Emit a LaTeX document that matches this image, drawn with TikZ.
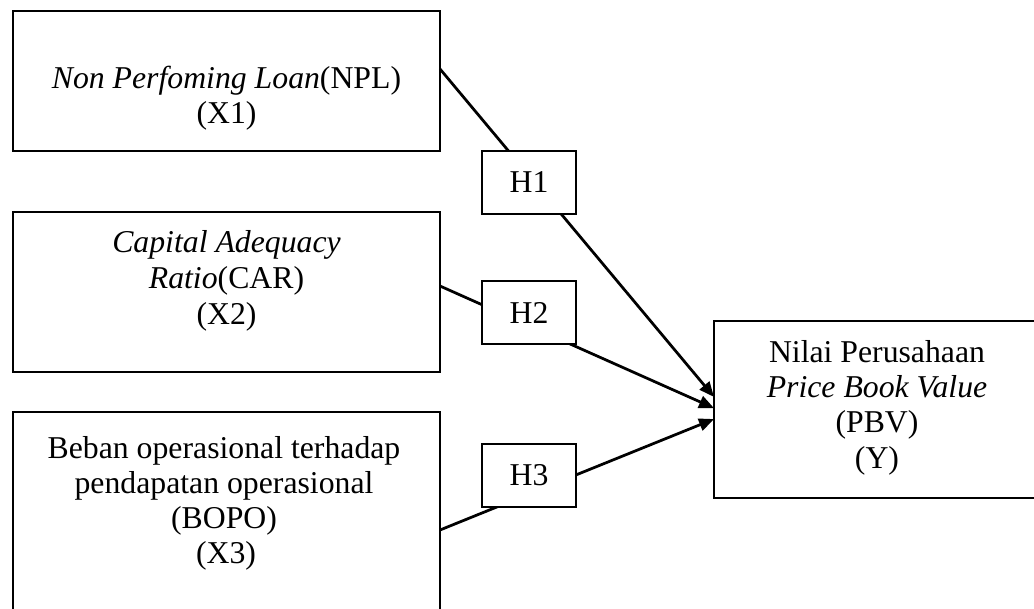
\documentclass[tikz,border=0pt]{standalone}
\usepackage{fontspec}
\setmainfont{Liberation Serif}
\usetikzlibrary{arrows.meta,calc,fit}
\begin{document}
\begin{tikzpicture}[x=0.4pt,y=-0.4pt,
  box/.style={draw,line width=0.8pt,inner sep=0pt,outer sep=0pt,fill=white,font=\fontsize{12.7}{15}\selectfont},
  hbox/.style={box,minimum width=37.6pt,minimum height=25.2pt},
  txt/.style={anchor=base,inner sep=0pt,font=\fontsize{12.7}{15}\selectfont},
  conn/.style={line width=1.1pt,-{Triangle[length=6pt,width=5pt]}}]
\useasboundingbox (0,0) rectangle (1034,608);
\clip (0,0) rectangle (1034,608);
% main boxes
\node[box,fit={(13,11)(440,151)}] (x1) {};
\node[box,fit={(13,212)(440,372)}] (x2) {};
\node[box,fit={(13,412)(440,640)}] (x3) {};
\node[box,fit={(714,321)(1040,498)}] (y) {};
% texts
\node[txt] (x1a) at (226.5,88) {\textit{Non Perfoming Loan}(NPL)};
\node[txt] (x1b) at (226.5,123) {(X1)};
\node[txt] (x2a) at (226.5,252) {\textit{Capital Adequacy}};
\node[txt] (x2b) at (226.5,288) {\textit{Ratio}(CAR)};
\node[txt] (x2c) at (226.5,324) {(X2)};
\node[txt] (x3a) at (224,458) {Beban operasional terhadap};
\node[txt] (x3b) at (224,493) {pendapatan operasional};
\node[txt] (x3c) at (224,528) {(BOPO)};
\node[txt] (x3d) at (226,563) {(X3)};
\node[txt] (ya) at (877,362) {Nilai Perusahaan};
\node[txt] (yb) at (877,397) {\textit{Price Book Value}};
\node[txt] (yc) at (877,432) {(PBV)};
\node[txt] (yd) at (877,468) {(Y)};
% connectors
\coordinate (s1) at ($(x1.north east)!0.414!(x1.south east)$);
\coordinate (s2) at ($(x2.north east)!0.4625!(x2.south east)$);
\coordinate (s3) at ($(x3.north east)!0.5175!(x3.south east)$);
\coordinate (t1) at ($(y.north west)!0.429!(y.south west)$);
\coordinate (t2) at ($(y.north west)!0.492!(y.south west)$);
\coordinate (t3) at ($(y.north west)!0.554!(y.south west)$);
\draw[conn] (s1) -- (t1);
\draw[conn] (s2) -- (t2);
\draw[conn] (s3) -- (t3);
% hypothesis boxes
\node[hbox] (h1) at (529,182.5) {H1};
\node[hbox] (h2) at (529,312.5) {H2};
\node[hbox] (h3) at (529,475.5) {H3};
\end{tikzpicture}
\end{document}
